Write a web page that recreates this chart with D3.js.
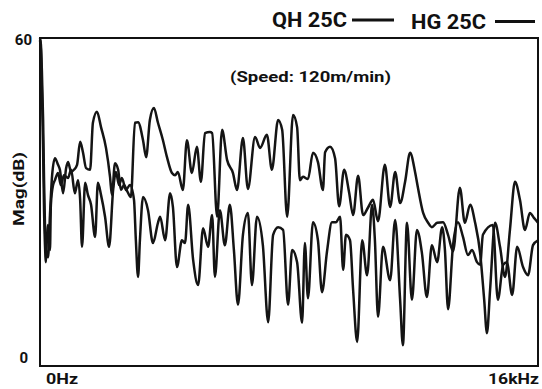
<!DOCTYPE html>
<html><head><meta charset="utf-8">
<script src="https://cdn.jsdelivr.net/npm/d3@7"></script>
<style>
html,body{margin:0;padding:0;background:#fff;}
svg text{font-family:Roboto,"Liberation Sans",sans-serif;font-weight:700;fill:#111;}
</style></head>
<body><svg id="c" width="542" height="389"></svg>
<script>
// Frequency in kHz, magnitude in dB
const seriesNames = ["QH 25C", "HG 25C"];
const yTickLabels = ["0", "60"];
const xTickLabels = ["0Hz", "16kHz"];
const subtitle = "(Speed: 120m/min)";
const yTitle = "Mag(dB)";

const qhData = [[0,60],[0.03,58.7],[0.06,54.1],[0.10,45.0],[0.13,34.0],[0.16,25.8],[0.19,21.2],[0.26,19.9],[0.32,27.6],[0.39,34.9],[0.48,38.0],[0.58,36.8],[0.64,35.9],[0.74,31.6],[0.84,36.2],[0.90,37.3],[1.00,35.5],[1.09,35.9],[1.19,36.8],[1.29,41.0],[1.38,39.1],[1.48,36.2],[1.61,35.9],[1.70,44.5],[1.83,46.5],[1.96,43.7],[2.12,39.9],[2.25,34.6],[2.31,31.3],[2.41,37.1],[2.51,35.9],[2.60,32.2],[2.70,33.1],[2.80,32.0],[2.92,30.9],[3.05,44.5],[3.15,44.6],[3.31,41.3],[3.41,38.2],[3.53,45.0],[3.66,47.2],[3.79,44.5],[3.95,41.3],[4.08,38.2],[4.24,35.3],[4.34,34.9],[4.43,35.5],[4.59,32.2],[4.72,41.3],[4.88,35.3],[5.04,40.1],[5.17,33.7],[5.30,42.6],[5.46,42.8],[5.53,42.6],[5.69,27.3],[5.85,43.2],[6.01,37.7],[6.20,35.3],[6.33,32.2],[6.52,41.7],[6.68,32.4],[6.91,41.9],[7.07,39.9],[7.29,42.3],[7.45,35.9],[7.65,45.0],[7.78,43.2],[7.94,27.3],[8.13,45.9],[8.26,43.7],[8.35,34.0],[8.45,34.6],[8.61,34.2],[8.77,39.0],[8.93,37.3],[9.09,32.2],[9.16,39.1],[9.32,40.1],[9.48,38.0],[9.61,29.2],[9.77,35.9],[9.93,31.8],[10.06,27.6],[10.22,34.8],[10.38,27.6],[10.54,29.0],[10.70,30.4],[10.86,26.5],[11.08,36.8],[11.25,29.1],[11.41,35.5],[11.57,29.8],[11.73,33.7],[11.89,39.0],[12.05,35.5],[12.14,32.7],[12.31,28.0],[12.47,26.2],[12.59,25.4],[12.76,26.2],[12.95,26.3],[13.11,24.0],[13.27,21.0],[13.49,32.6],[13.65,26.2],[13.82,29.5],[13.98,26.2],[14.14,20.7],[14.27,12.2],[14.36,6.0],[14.46,13.9],[14.62,26.2],[14.78,21.8],[14.94,16.3],[15.10,25.0],[15.26,33.7],[15.42,30.4],[15.58,24.9],[15.74,28.0],[15.87,27.1],[16.0,26.2]];

const hgData = [[0,59.6],[0.03,57.8],[0.06,50.5],[0.10,39.5],[0.13,28.5],[0.16,22.1],[0.19,19.0],[0.22,23.0],[0.26,25.8],[0.32,21.2],[0.35,29.5],[0.42,33.1],[0.48,34.0],[0.58,35.3],[0.67,33.1],[0.77,34.9],[0.90,34.4],[1.00,35.9],[1.12,31.6],[1.22,34.0],[1.29,30.4],[1.35,21.8],[1.45,33.5],[1.54,31.3],[1.64,29.5],[1.77,23.6],[1.86,33.5],[1.96,31.3],[2.09,27.3],[2.22,21.8],[2.35,32.2],[2.44,35.5],[2.54,33.1],[2.63,34.4],[2.76,32.2],[2.89,33.1],[3.02,30.4],[3.08,23.0],[3.15,16.3],[3.21,23.0],[3.31,30.9],[3.47,28.5],[3.63,22.5],[3.79,26.2],[3.86,27.3],[4.02,23.0],[4.18,31.6],[4.27,29.1],[4.40,18.1],[4.56,23.0],[4.66,22.5],[4.76,29.5],[4.92,19.4],[5.08,14.8],[5.24,25.2],[5.40,21.8],[5.53,27.6],[5.62,16.3],[5.78,28.5],[5.94,22.1],[6.10,29.5],[6.23,21.2],[6.36,11.2],[6.52,24.0],[6.68,28.0],[6.81,14.8],[6.97,27.3],[7.16,22.1],[7.33,8.0],[7.49,24.0],[7.65,25.4],[7.81,24.9],[7.97,11.2],[8.10,21.2],[8.26,19.0],[8.42,7.9],[8.51,22.5],[8.61,12.4],[8.77,26.3],[8.93,23.0],[9.06,13.5],[9.22,20.9],[9.38,26.3],[9.51,26.3],[9.64,27.3],[9.74,17.6],[9.83,24.0],[9.96,23.0],[10.06,13.9],[10.19,4.4],[10.35,23.0],[10.51,16.6],[10.67,29.5],[10.76,23.0],[10.86,9.0],[11.02,21.8],[11.25,15.7],[11.41,26.7],[11.57,12.1],[11.66,3.8],[11.79,26.2],[11.95,12.1],[12.11,24.9],[12.27,20.7],[12.43,12.6],[12.59,22.1],[12.76,19.0],[12.92,25.4],[13.01,21.2],[13.11,10.4],[13.27,22.1],[13.43,26.3],[13.59,23.6],[13.75,20.3],[13.88,21.2],[14.04,19.0],[14.14,18.5],[14.23,24.0],[14.55,25.8],[14.71,12.1],[14.88,18.5],[15.00,19.0],[15.17,13.0],[15.33,21.8],[15.52,18.1],[15.68,16.6],[15.84,22.1],[16.0,23.0]];

const svg = d3.select("#c");
const x = d3.scaleLinear().domain([0, 16]).range([40, 538]);
const y = d3.scaleLinear().domain([0, 60]).range([366, 38]);

const line = d3.line().x(d => x(d[0])).y(d => y(d[1])).curve(d3.curveMonotoneX);

svg.append("g").selectAll("path").data([hgData, qhData]).join("path")
  .attr("d", line).attr("fill", "none").attr("stroke", "#141414")
  .attr("stroke-width", 2.5).attr("stroke-linejoin", "round");

// frame
svg.append("rect").attr("x", x(0)).attr("y", y(60)).attr("width", x(16) - x(0)).attr("height", y(0) - y(60))
  .attr("fill", "none").attr("stroke", "#111").attr("stroke-width", 2);

// y tick labels
const yVals = [0, 60];
svg.selectAll(".yt").data(yVals).join("text").attr("class", "yt")
  .attr("x", (d, i) => i === 0 ? 28 : 32)
  .attr("y", d => d === 0 ? y(d) - 3 : y(d) + 7)
  .attr("text-anchor", "end").attr("font-size", 15)
  .text((d, i) => yTickLabels[i]);

// x tick labels
svg.append("text").attr("x", x(0) + 6).attr("y", 384).attr("font-size", 15)
  .attr("textLength", 32).attr("lengthAdjust", "spacingAndGlyphs").text(xTickLabels[0]);
svg.append("text").attr("x", x(16) + 1).attr("y", 384).attr("font-size", 15).attr("text-anchor", "end")
  .attr("textLength", 51).attr("lengthAdjust", "spacingAndGlyphs").text(xTickLabels[1]);

// y title
svg.append("text").attr("transform", "translate(24,189) rotate(-90)").attr("text-anchor", "middle")
  .attr("font-size", 15).attr("textLength", 74).attr("lengthAdjust", "spacingAndGlyphs").text(yTitle);

// subtitle
svg.append("text").attr("x", 230).attr("y", 82).attr("font-size", 15)
  .attr("textLength", 161).attr("lengthAdjust", "spacingAndGlyphs").text(subtitle);

// legend
const legX = [272, 411], legY = [27, 29], legLine = [[352, 394], [495, 535]];
seriesNames.forEach((n, i) => {
  svg.append("text").attr("x", legX[i]).attr("y", legY[i]).attr("font-size", 20)
    .attr("textLength", 75).attr("lengthAdjust", "spacingAndGlyphs").text(n);
  svg.append("line").attr("x1", legLine[i][0]).attr("x2", legLine[i][1])
    .attr("y1", 20 + i * 1.5).attr("y2", 20 + i * 1.5).attr("stroke", "#111").attr("stroke-width", 3);
});
</script></body></html>
